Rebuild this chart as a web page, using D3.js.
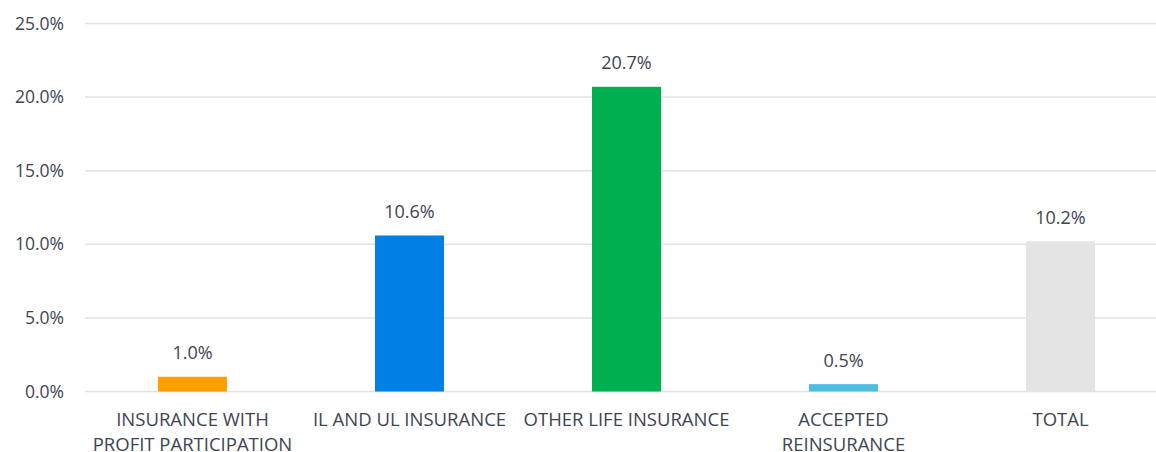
<!DOCTYPE html>
<html>
<head>
<meta charset="utf-8">
<script src="https://cdn.jsdelivr.net/npm/d3@7"></script>
<style>
  body { margin: 0; background: #fff; }
  text { font-family: "Open Sans", sans-serif; fill: #3e4553; }
</style>
</head>
<body>
<div id="chart"></div>
<script>
// chart data
var categories = [
  ["INSURANCE WITH", "PROFIT PARTICIPATION"],
  ["IL AND UL INSURANCE"],
  ["OTHER LIFE INSURANCE"],
  ["ACCEPTED", "REINSURANCE"],
  ["TOTAL"]
];
var values = [1.0, 10.6, 20.7, 0.5, 10.2];
var colors = ["#ffa000", "#0080e4", "#00b050", "#4fbde0", "#e4e4e4"];
var yTicks = [0, 5, 10, 15, 20, 25];

var svgWidth = 1156;
var svgHeight = 452;

var svg = d3.select("#chart")
  .append("svg")
  .attr("width", svgWidth)
  .attr("height", svgHeight);

var keys = categories.map(function(d, i) { return i; });

// plot area runs past the right edge (cropped in original)
var xScale = d3.scaleBand()
  .domain(keys)
  .range([84, 1169])
  .paddingInner(0.682)
  .paddingOuter(0.341);

var yScale = d3.scaleLinear()
  .domain([0, 25])
  .range([391.5, 23.5]);

// gridlines
svg.append("g")
  .selectAll("line")
  .data(yTicks)
  .enter()
  .append("line")
  .attr("x1", 85)
  .attr("x2", svgWidth)
  .attr("y1", d => yScale(d))
  .attr("y2", d => yScale(d))
  .attr("stroke", "#dfe2e6")
  .attr("stroke-width", 1.5);

// y axis labels
var leftAxis = d3.axisLeft(yScale)
  .tickValues(yTicks)
  .tickFormat(d => d.toFixed(1) + "%")
  .tickSize(0)
  .tickPadding(0);

var yAxisG = svg.append("g")
  .attr("transform", "translate(64, 0)")
  .call(leftAxis);
yAxisG.select(".domain").remove();
yAxisG.selectAll("text")
  .style("font-size", "17.5px")
  .style("font-family", "'Open Sans', sans-serif")
  .attr("fill", "#3e4553");

// bars
svg.append("g")
  .selectAll("rect")
  .data(values)
  .enter()
  .append("rect")
  .attr("x", (d, i) => xScale(i))
  .attr("width", xScale.bandwidth())
  .attr("y", d => yScale(d))
  .attr("height", d => yScale(0) - yScale(d))
  .attr("fill", (d, i) => colors[i]);

// value labels
svg.append("g")
  .selectAll("text")
  .data(values)
  .enter()
  .append("text")
  .attr("x", (d, i) => xScale(i) + xScale.bandwidth() / 2)
  .attr("y", d => yScale(d) - 17.5)
  .attr("text-anchor", "middle")
  .style("font-size", "18px")
  .text(d => d.toFixed(1) + "%");

// category labels
var catLabels = svg.append("g")
  .selectAll("text")
  .data(categories)
  .enter()
  .append("text")
  .attr("text-anchor", "middle")
  .style("font-size", "18.5px");

catLabels.selectAll("tspan")
  .data((d, i) => d.map(line => ({ line: line, i: i })))
  .enter()
  .append("tspan")
  .attr("x", d => xScale(d.i) + xScale.bandwidth() / 2)
  .attr("y", (d, j) => 426 + j * 25)
  .text(d => d.line);
</script>
</body>
</html>
